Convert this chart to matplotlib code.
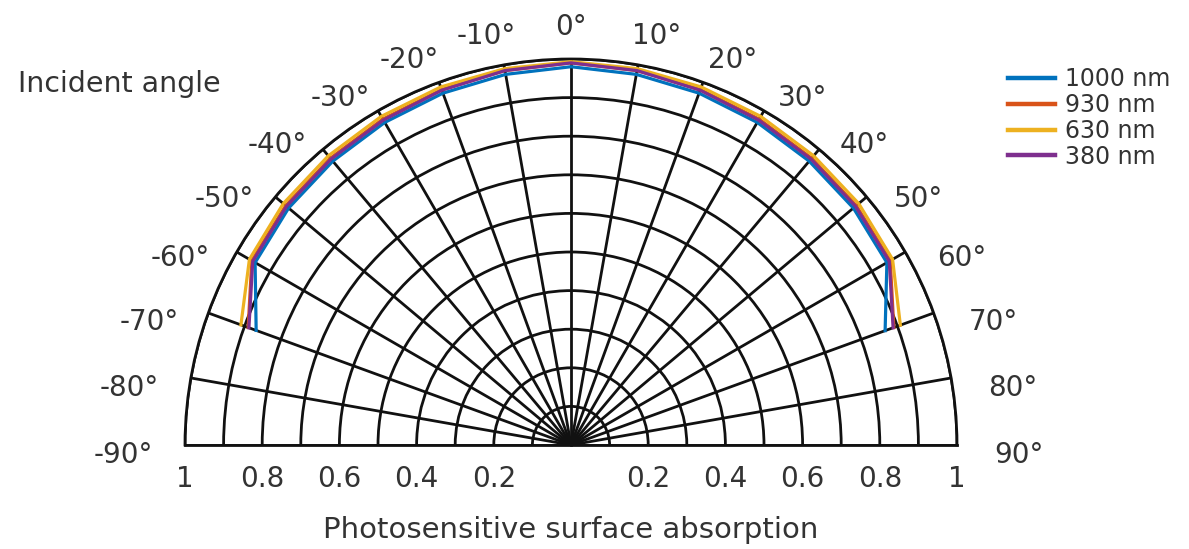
import numpy as np
import matplotlib
matplotlib.use("Agg")
import matplotlib.pyplot as plt

# incident angle (deg) and absorption per wavelength
angles = [-70, -60, -50, -40, -30, -20, -10, 0, 10, 20, 30, 40, 50, 60, 70]
abs_1000 = [0.868, 0.945, 0.955, 0.960, 0.965, 0.970, 0.975, 0.980,
            0.975, 0.970, 0.965, 0.960, 0.955, 0.945, 0.866]
abs_930 = [0.890, 0.955, 0.965, 0.970, 0.975, 0.980, 0.985, 0.990,
           0.985, 0.980, 0.975, 0.970, 0.965, 0.955, 0.890]
abs_630 = [0.910, 0.962, 0.973, 0.978, 0.983, 0.987, 0.990, 0.993,
           0.990, 0.987, 0.983, 0.978, 0.973, 0.962, 0.908]
abs_380 = [0.888, 0.952, 0.962, 0.967, 0.972, 0.978, 0.985, 0.990,
           0.985, 0.978, 0.972, 0.967, 0.962, 0.952, 0.888]
series = [("1000 nm", abs_1000, "#0072BD"),
          ("930 nm", abs_930, "#D95319"),
          ("630 nm", abs_630, "#EDB120"),
          ("380 nm", abs_380, "#7E2F8E")]

theta_ticks = list(range(-90, 91, 10))
r_rings = [0.1, 0.2, 0.3, 0.4, 0.5, 0.6, 0.7, 0.8, 0.9, 1.0]
r_labels = [0.2, 0.4, 0.6, 0.8, 1.0]

TXT = "#333333"
W, H = 1189, 549
fig = plt.figure(figsize=(W / 100, H / 100), dpi=100)
fig.patch.set_facecolor("white")

# half disc centre (px from top-left) and radius; polar box stays square,
# the wedge gets centred vertically inside it
cx, cy, R = 571, 445, 386
box_mid = cy - R / 2
ax = fig.add_axes([(cx - R) / W, (H - box_mid - R) / H, 2 * R / W, 2 * R / H],
                  projection="polar")
ax.set_theta_zero_location("N")
ax.set_theta_direction(-1)
ax.set_thetamin(-90)
ax.set_thetamax(90)
ax.set_ylim(0, 1)
ax.set_rgrids(r_rings, labels=[""] * len(r_rings))
ax.set_thetagrids(theta_ticks, labels=[""] * len(theta_ticks))
ax.grid(True, color="#111111", linewidth=2.0)
ax.tick_params(length=0)
for sp in ax.spines.values():
    sp.set_color("#111111")
    sp.set_linewidth(2.0)

for name, vals, col in series:
    ax.plot(np.deg2rad(angles), vals, color=col, linewidth=2.3, label=name, zorder=3)

# angle labels around the rim
for a in theta_ticks:
    s = np.sin(np.deg2rad(a))
    c = np.cos(np.deg2rad(a))
    dx = np.sign(s) * 62 * abs(s) ** 0.7
    dy = 32 * c ** 5 - 10 * s ** 2
    ax.annotate(f"{a}°", xy=(np.deg2rad(a), 1.0), xytext=(dx, dy),
                textcoords="offset pixels", ha="center", va="center",
                fontsize=20, color=TXT, annotation_clip=False)

# absorption labels along the diameter
for side in (-90, 90):
    for r in r_labels:
        ax.annotate(f"{r:g}", xy=(np.deg2rad(side), r), xytext=(0, -34),
                    textcoords="offset pixels", ha="center", va="center",
                    fontsize=20, color=TXT, annotation_clip=False)

fig.text(18 / W, 1 - 84 / H, "Incident angle", fontsize=20.5, color=TXT,
         ha="left", va="center")
fig.text(cx / W, 1 - 530 / H, "Photosensitive surface absorption", fontsize=21,
         color=TXT, ha="center", va="center")

leg = fig.legend(loc="upper left", bbox_to_anchor=(1008 / W, 1 - 67 / H), frameon=False,
                 fontsize=17, labelspacing=0.08, handlelength=2.0, handletextpad=0.4,
                 borderpad=0, borderaxespad=0, labelcolor=TXT)
for ln in leg.get_lines():
    ln.set_linewidth(3.2)

fig.savefig("out.png", dpi=100, facecolor="white")
